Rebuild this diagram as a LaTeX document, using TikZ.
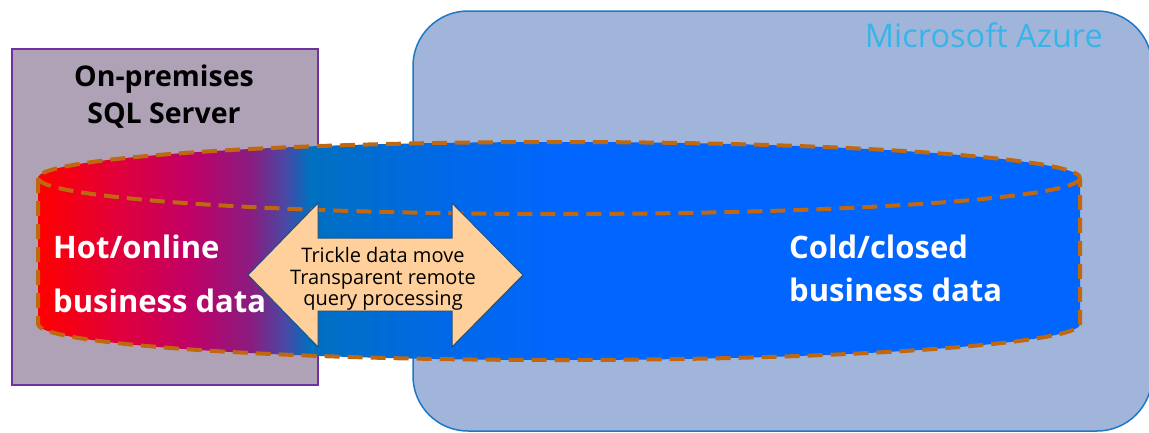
\documentclass[tikz,border=0pt]{standalone}
\usepackage{fontspec}
\setmainfont{Open Sans}
\definecolor{premfill}{RGB}{176,162,182}
\definecolor{premline}{RGB}{112,48,160}
\definecolor{azfill}{RGB}{161,181,219}
\definecolor{azline}{RGB}{31,120,196}
\definecolor{aztext}{RGB}{56,180,232}
\definecolor{dashc}{RGB}{192,104,16}
\definecolor{arrfill}{RGB}{255,208,155}
\definecolor{arrline}{RGB}{31,80,128}
\definecolor{cr}{RGB}{255,0,0}
\definecolor{ca}{RGB}{224,0,60}
\definecolor{cb}{RGB}{192,0,102}
\definecolor{cc}{RGB}{138,28,128}
\definecolor{cd}{RGB}{74,72,164}
\definecolor{ce}{RGB}{0,112,192}
\definecolor{cf}{RGB}{0,104,232}
\definecolor{cg}{RGB}{0,102,255}
\pgfdeclarehorizontalshading{cylshade}{100bp}{color(0bp)=(cr); color(25bp)=(cr); color(28.93bp)=(ca); color(32.29bp)=(cb); color(35.17bp)=(cc); color(36.85bp)=(cd); color(38.05bp)=(ce); color(44.77bp)=(cf); color(50.05bp)=(cg); color(100bp)=(cg)}
\begin{document}
\begin{tikzpicture}[x=1pt,y=-1pt,
  azbox/.style={fill=azfill,draw=azline,line width=1.5pt,rounded corners=55pt},
  prembox/.style={fill=premfill,draw=premline,line width=1.2pt},
  cylbody/.style={shading=cylshade},
  cyledge/.style={draw=dashc,line width=4pt,dash pattern=on 15pt off 8pt},
  arrowshape/.style={fill=arrfill,draw=arrline,line width=1pt,line join=miter},
  whitelbl/.style={text=white,font=\fontsize{31}{54}\selectfont\bfseries,align=left,anchor=base west,inner sep=0pt},
  premlbl/.style={text=black,font=\fontsize{28.5}{37}\selectfont\bfseries,align=center,anchor=base,inner sep=0pt},
  arrlbl/.style={text=black,font=\fontsize{20}{21.5}\selectfont,align=center,inner sep=0pt}
]
\useasboundingbox (0,0) rectangle (1149,432);
\clip (0,0) rectangle (1149,432);
% Azure region
\path[azbox] (413,11) rectangle (1152,431);
\node[text=aztext,font=\fontsize{32.5}{36}\selectfont,anchor=base east,inner sep=0pt] (azure) at (1103,47) {Microsoft Azure};
% On-premises box
\path[prembox] (12,49) rectangle (318,385);
\node[premlbl] (prem) at (164,123) {On-premises\\SQL Server};
% Cylinder body
\path[cylbody] (38,178) arc[start angle=180,end angle=360,x radius=521,y radius=36]
  -- (1080,324) arc[start angle=0,end angle=180,x radius=521,y radius=36] -- cycle;
% Cylinder outline
\path[cyledge] (559,178) ellipse[x radius=521,y radius=36];
\path[cyledge] (38,178) -- (38,324) arc[start angle=180,end angle=0,x radius=521,y radius=36] -- (1080,178);
% Double arrow
\path[arrowshape] (248,275) -- (318,203) -- (318,238) -- (452,238) -- (452,203) -- (523,275)
  -- (452,347) -- (452,311) -- (318,311) -- (318,347) -- cycle;
\node[arrlbl] (move) at (383,279) {Trickle data move\\Transparent remote\\query processing};
% Labels
\node[whitelbl] (hot) at (53,312) {Hot/online\\business data};
\node[whitelbl,font=\fontsize{31}{43}\selectfont\bfseries] (cold) at (789,301) {Cold/closed\\business data};
\end{tikzpicture}
\end{document}
